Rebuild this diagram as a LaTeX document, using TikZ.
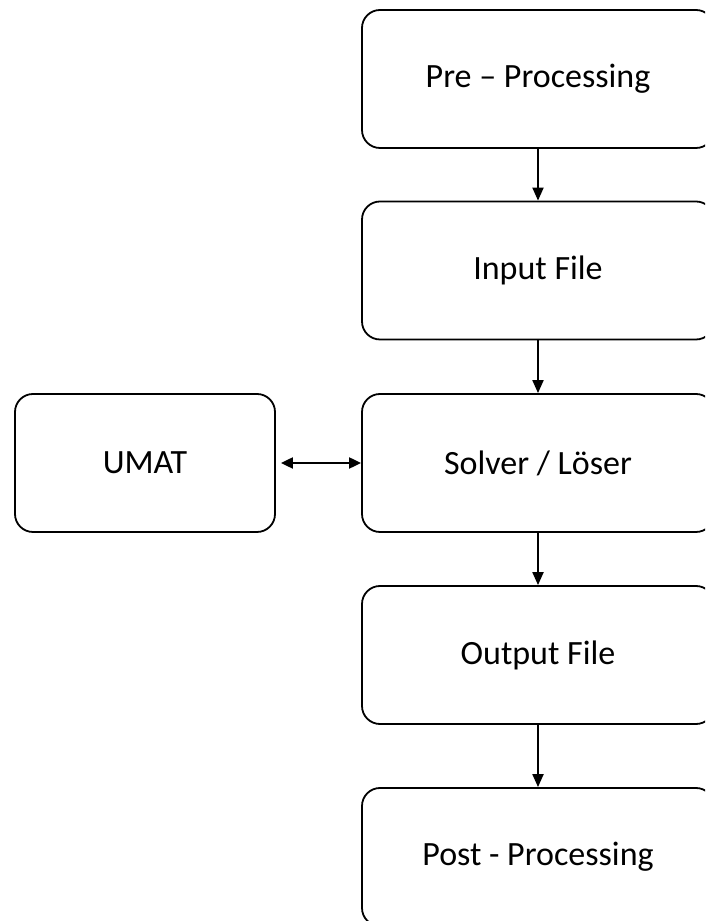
\documentclass[tikz,border=0pt]{standalone}
\usepackage{fontspec}
\setmainfont{Carlito}
\usetikzlibrary{arrows.meta}
\begin{document}
\begin{tikzpicture}[x=1pt,y=1pt,
  box/.style={draw=black,line width=1.8pt,rounded corners=18pt,fill=white,
    minimum width=352pt,minimum height=138pt,inner sep=0pt,
    font=\fontsize{34}{40}\selectfont},
  umatbox/.style={box,minimum width=260pt},
  flow/.style={line width=2pt,-{Triangle[length=13pt,width=11pt]}},
  both/.style={line width=2pt,{Triangle[length=12pt,width=11pt]}-{Triangle[length=12pt,width=11pt]}}]
\useasboundingbox (0,0) rectangle (705,921);
\clip (0,0) rectangle (705,921);
\node[box] (pre) at (538,842) {Pre -- Processing};
\node[box] (inp) at (538,650.5) {Input File};
\node[box] (sol) at (538,458) {Solver / Löser};
\node[box] (out) at (538,266) {Output File};
\node[box] (post) at (538,64) {Post - Processing};
\node[umatbox] (umat) at (145,458) {UMAT};
\draw[flow] (pre.south) -- (inp.north);
\draw[flow] (inp.south) -- (sol.north);
\draw[flow] (sol.south) -- (out.north);
\draw[flow] (out.south) -- (post.north);
\draw[both,shorten <=5pt] (umat.east) -- (sol.west);
\end{tikzpicture}
\end{document}
